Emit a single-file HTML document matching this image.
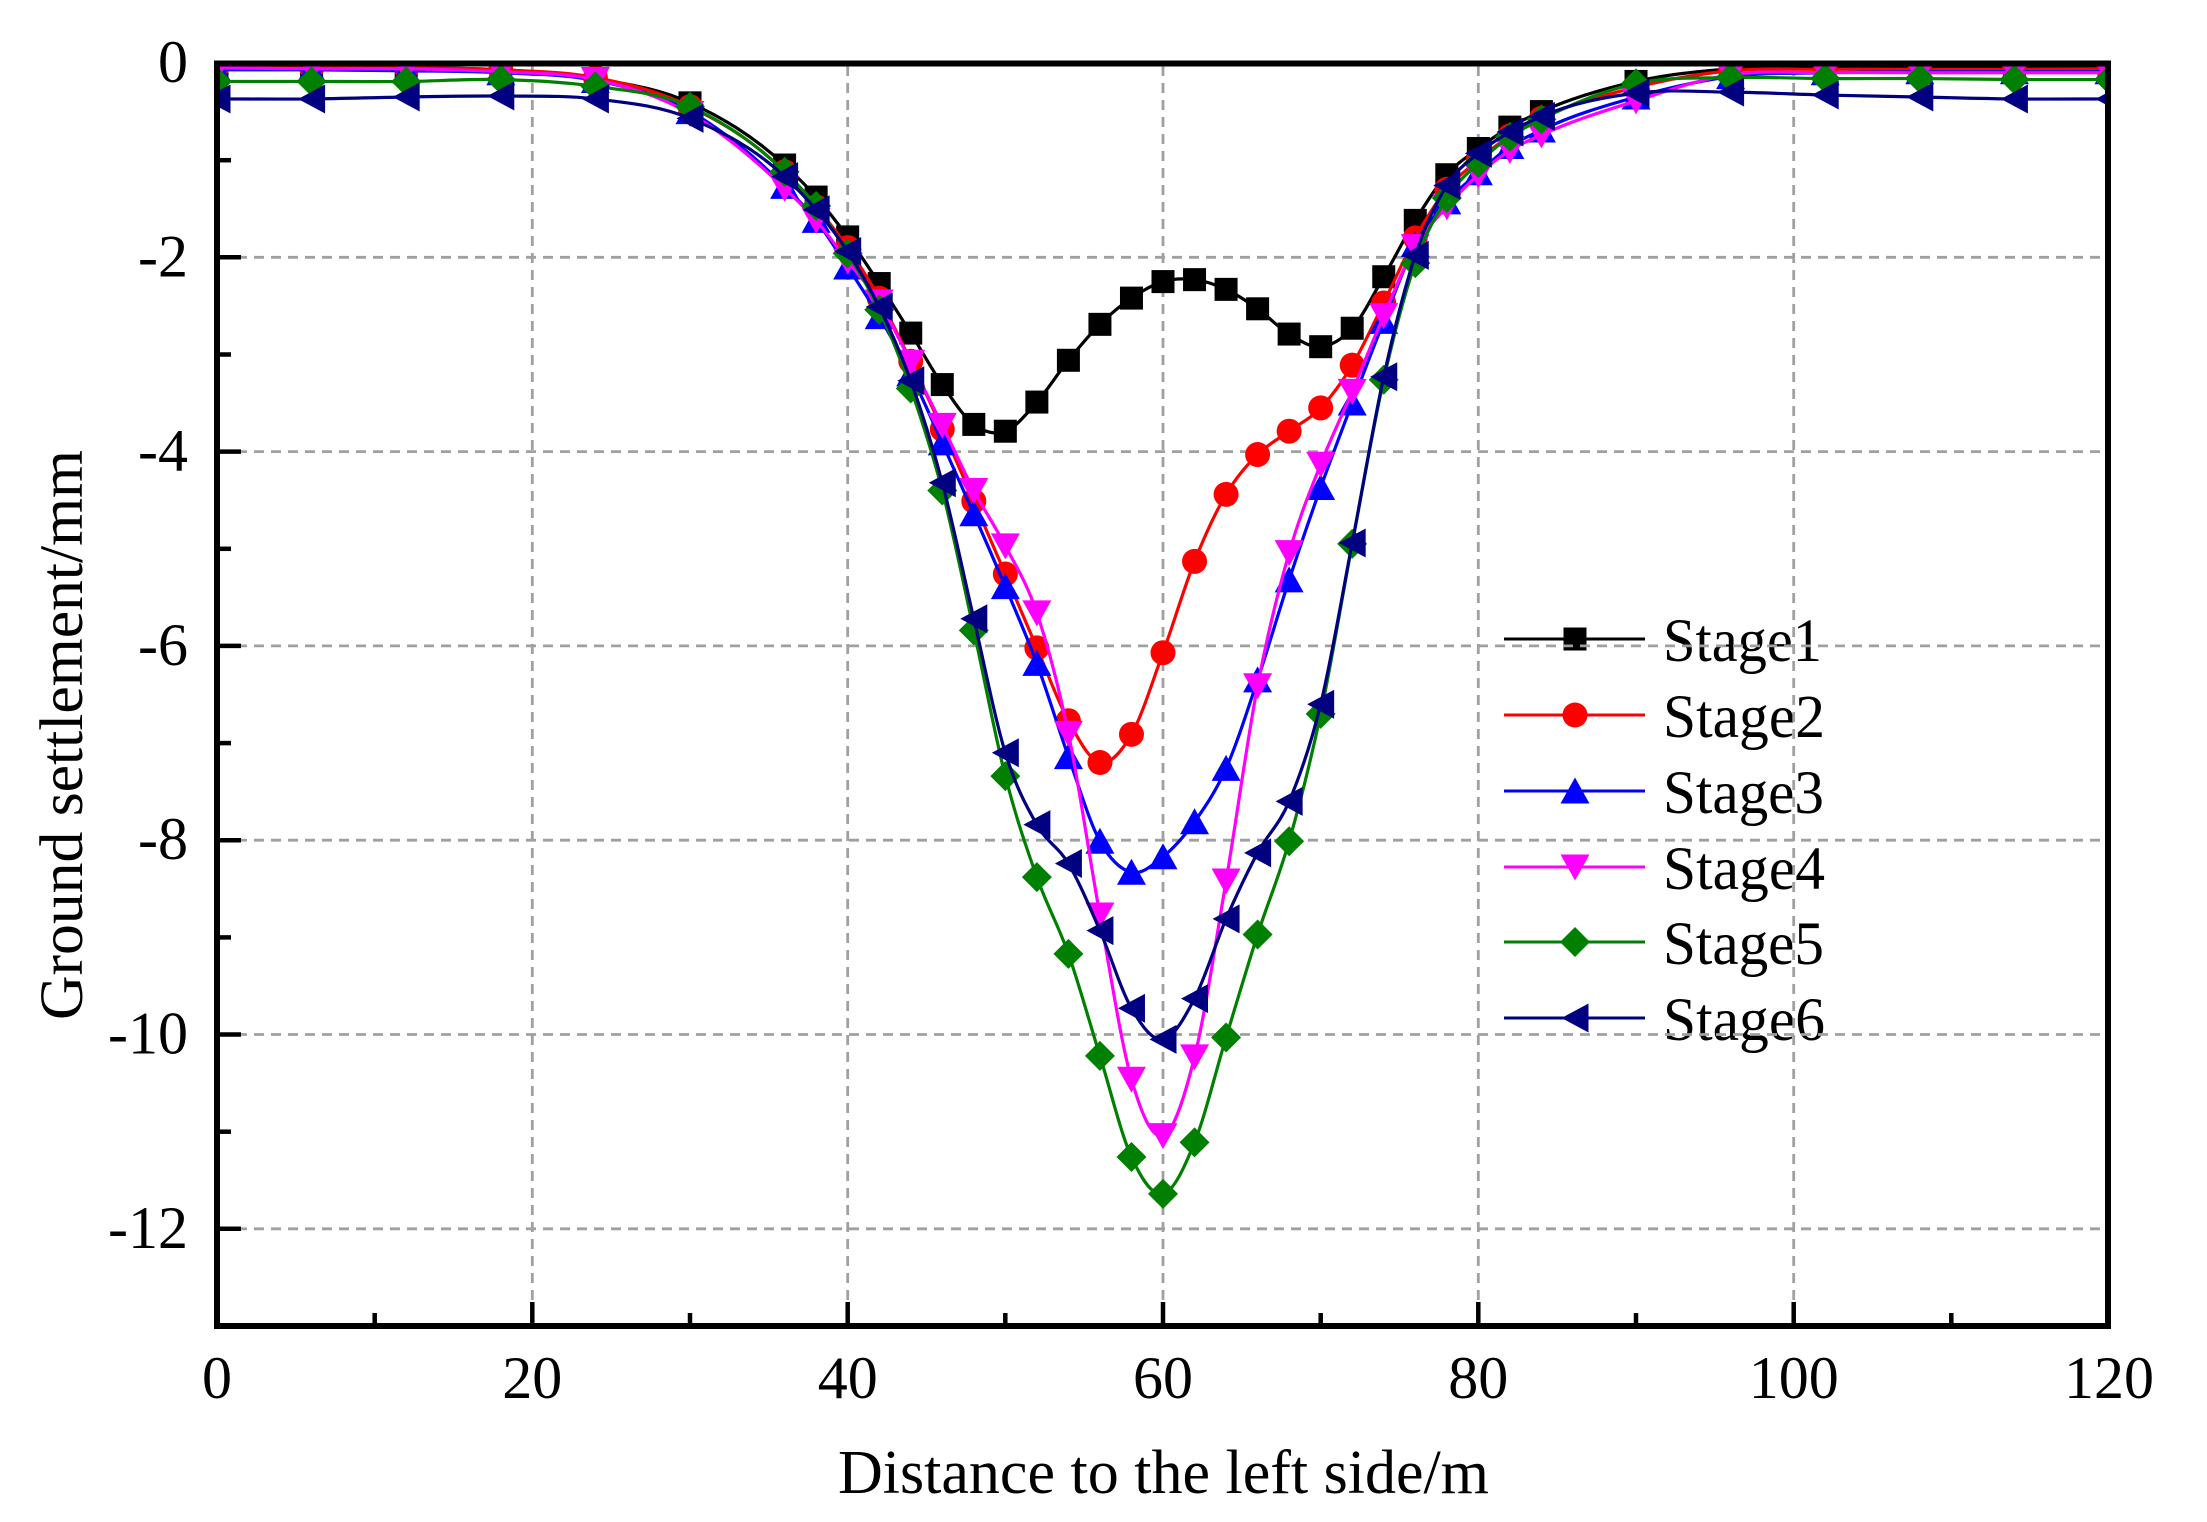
<!DOCTYPE html>
<html>
<head>
<meta charset="utf-8">
<style>
html,body{margin:0;padding:0;background:#fff;}
svg{display:block;}
text{font-family:"Liberation Serif","Times New Roman",serif;fill:#000;}
</style>
</head>
<body>
<svg id="chart" width="2207" height="1522" viewBox="0 0 2207 1522" xmlns="http://www.w3.org/2000/svg">
<defs>
  <rect id="p1" x="-11.5" y="-11.5" width="23" height="23"/>
  <circle id="p2" cx="0" cy="0" r="12.5"/>
  <polygon id="p3" points="0,-13.5 14.5,12.5 -14.5,12.5"/>
  <polygon id="p4" points="0,13.5 14.5,-12.5 -14.5,-12.5"/>
  <polygon id="p5" points="0,-15 15,0 0,15 -15,0"/>
  <polygon id="p6" points="-13.5,0 13.5,-14.5 13.5,14.5"/>
  <g id="m1" transform="scale(0.063425,-0.010293)"><use href="#p1"/></g>
  <g id="m2" transform="scale(0.063425,-0.010293)"><use href="#p2"/></g>
  <g id="m3" transform="scale(0.063425,-0.010293)"><use href="#p3"/></g>
  <g id="m4" transform="scale(0.063425,-0.010293)"><use href="#p4"/></g>
  <g id="m5" transform="scale(0.063425,-0.010293)"><use href="#p5"/></g>
  <g id="m6" transform="scale(0.063425,-0.010293)"><use href="#p6"/></g>
  <clipPath id="plotclip" clipPathUnits="userSpaceOnUse">
    <rect x="0" y="-13" width="120" height="13"/>
  </clipPath>
</defs>

<rect x="0" y="0" width="2207" height="1522" fill="#fff"/>

<g>
  <line x1="1504" y1="639" x2="1645" y2="639" stroke="#000" stroke-width="3"/>
  <use href="#p1" x="1575" y="639" fill="#000"/>
  <text x="1663" y="661" font-size="61" textLength="159" lengthAdjust="spacingAndGlyphs">Stage1</text>

  <line x1="1504" y1="715" x2="1645" y2="715" stroke="#ff0000" stroke-width="3"/>
  <use href="#p2" x="1575" y="715" fill="#ff0000"/>
  <text x="1663" y="737" font-size="61" textLength="162" lengthAdjust="spacingAndGlyphs">Stage2</text>

  <line x1="1504" y1="791" x2="1645" y2="791" stroke="#0000ff" stroke-width="3"/>
  <use href="#p3" x="1575" y="791" fill="#0000ff"/>
  <text x="1663" y="813" font-size="61" textLength="161" lengthAdjust="spacingAndGlyphs">Stage3</text>

  <line x1="1504" y1="867" x2="1645" y2="867" stroke="#ff00ff" stroke-width="3"/>
  <use href="#p4" x="1575" y="867" fill="#ff00ff"/>
  <text x="1663" y="889" font-size="61" textLength="162" lengthAdjust="spacingAndGlyphs">Stage4</text>

  <line x1="1504" y1="942" x2="1645" y2="942" stroke="#008000" stroke-width="3"/>
  <use href="#p5" x="1575" y="942" fill="#008000"/>
  <text x="1663" y="964" font-size="61" textLength="161" lengthAdjust="spacingAndGlyphs">Stage5</text>

  <line x1="1504" y1="1018" x2="1645" y2="1018" stroke="#000080" stroke-width="3"/>
  <use href="#p6" x="1575" y="1018" fill="#000080"/>
  <text x="1663" y="1040" font-size="61" textLength="162" lengthAdjust="spacingAndGlyphs">Stage6</text>
</g>

<g stroke="#a0a0a0" stroke-width="2.8" stroke-dasharray="10,7" fill="none">
  <line x1="532.3" y1="66" x2="532.3" y2="1323"/>
  <line x1="847.7" y1="66" x2="847.7" y2="1323"/>
  <line x1="1163" y1="66" x2="1163" y2="1323"/>
  <line x1="1478.3" y1="66" x2="1478.3" y2="1323"/>
  <line x1="1793.7" y1="66" x2="1793.7" y2="1323"/>
  <line x1="220" y1="257.3" x2="2106" y2="257.3"/>
  <line x1="220" y1="451.6" x2="2106" y2="451.6"/>
  <line x1="220" y1="645.9" x2="2106" y2="645.9"/>
  <line x1="220" y1="840.2" x2="2106" y2="840.2"/>
  <line x1="220" y1="1034.5" x2="2106" y2="1034.5"/>
  <line x1="220" y1="1228.8" x2="2106" y2="1228.8"/>
</g>

<g transform="translate(217,63) scale(15.7667,-97.1538)">
<g clip-path="url(#plotclip)">

<polyline class="s" fill="none" stroke="#000" stroke-width="3.2" vector-effect="non-scaling-stroke" stroke-linejoin="round"
 points="0,-0.04 6,-0.05 12,-0.05 18,-0.07 24,-0.16 30,-0.41 36,-1.05 38,-1.38 40,-1.79 42,-2.27 44,-2.78 46,-3.31 48,-3.72 50,-3.79 52,-3.49 54,-3.06 56,-2.69 58,-2.42 60,-2.25 62,-2.23 64,-2.33 66,-2.53 68,-2.79 70,-2.92 72,-2.73 74,-2.20 76,-1.62 78,-1.15 80,-0.88 82,-0.66 84,-0.50 90,-0.19 96,-0.06 102,-0.04 108,-0.04 114,-0.04 120,-0.04"/>
<g fill="#000">
<use href="#m1" x="0" y="-0.04"/><use href="#m1" x="6" y="-0.05"/><use href="#m1" x="12" y="-0.05"/><use href="#m1" x="18" y="-0.07"/><use href="#m1" x="24" y="-0.16"/><use href="#m1" x="30" y="-0.41"/><use href="#m1" x="36" y="-1.05"/><use href="#m1" x="38" y="-1.38"/><use href="#m1" x="40" y="-1.79"/><use href="#m1" x="42" y="-2.27"/><use href="#m1" x="44" y="-2.78"/><use href="#m1" x="46" y="-3.31"/><use href="#m1" x="48" y="-3.72"/><use href="#m1" x="50" y="-3.79"/><use href="#m1" x="52" y="-3.49"/><use href="#m1" x="54" y="-3.06"/><use href="#m1" x="56" y="-2.69"/><use href="#m1" x="58" y="-2.42"/><use href="#m1" x="60" y="-2.25"/><use href="#m1" x="62" y="-2.23"/><use href="#m1" x="64" y="-2.33"/><use href="#m1" x="66" y="-2.53"/><use href="#m1" x="68" y="-2.79"/><use href="#m1" x="70" y="-2.92"/><use href="#m1" x="72" y="-2.73"/><use href="#m1" x="74" y="-2.20"/><use href="#m1" x="76" y="-1.62"/><use href="#m1" x="78" y="-1.15"/><use href="#m1" x="80" y="-0.88"/><use href="#m1" x="82" y="-0.66"/><use href="#m1" x="84" y="-0.50"/><use href="#m1" x="90" y="-0.19"/><use href="#m1" x="96" y="-0.06"/><use href="#m1" x="102" y="-0.04"/><use href="#m1" x="108" y="-0.04"/><use href="#m1" x="114" y="-0.04"/><use href="#m1" x="120" y="-0.04"/>
</g>

<polyline class="s" fill="none" stroke="#ff0000" stroke-width="3.2" vector-effect="non-scaling-stroke" stroke-linejoin="round"
 points="0,-0.04 6,-0.05 12,-0.05 18,-0.07 24,-0.15 30,-0.45 36,-1.12 38,-1.48 40,-1.90 42,-2.42 44,-3.07 46,-3.77 48,-4.51 50,-5.26 52,-6.02 54,-6.77 56,-7.20 58,-6.91 60,-6.07 62,-5.13 64,-4.44 66,-4.03 68,-3.79 70,-3.55 72,-3.11 74,-2.47 76,-1.80 78,-1.30 80,-1.00 82,-0.75 84,-0.57 90,-0.25 96,-0.08 102,-0.065 108,-0.065 114,-0.065 120,-0.06"/>
<g fill="#ff0000">
<use href="#m2" x="0" y="-0.04"/><use href="#m2" x="6" y="-0.05"/><use href="#m2" x="12" y="-0.05"/><use href="#m2" x="18" y="-0.07"/><use href="#m2" x="24" y="-0.15"/><use href="#m2" x="30" y="-0.45"/><use href="#m2" x="36" y="-1.12"/><use href="#m2" x="38" y="-1.48"/><use href="#m2" x="40" y="-1.90"/><use href="#m2" x="42" y="-2.42"/><use href="#m2" x="44" y="-3.07"/><use href="#m2" x="46" y="-3.77"/><use href="#m2" x="48" y="-4.51"/><use href="#m2" x="50" y="-5.26"/><use href="#m2" x="52" y="-6.02"/><use href="#m2" x="54" y="-6.77"/><use href="#m2" x="56" y="-7.20"/><use href="#m2" x="58" y="-6.91"/><use href="#m2" x="60" y="-6.07"/><use href="#m2" x="62" y="-5.13"/><use href="#m2" x="64" y="-4.44"/><use href="#m2" x="66" y="-4.03"/><use href="#m2" x="68" y="-3.79"/><use href="#m2" x="70" y="-3.55"/><use href="#m2" x="72" y="-3.11"/><use href="#m2" x="74" y="-2.47"/><use href="#m2" x="76" y="-1.80"/><use href="#m2" x="78" y="-1.30"/><use href="#m2" x="80" y="-1.00"/><use href="#m2" x="82" y="-0.75"/><use href="#m2" x="84" y="-0.57"/><use href="#m2" x="90" y="-0.25"/><use href="#m2" x="96" y="-0.08"/><use href="#m2" x="102" y="-0.065"/><use href="#m2" x="108" y="-0.065"/><use href="#m2" x="114" y="-0.065"/><use href="#m2" x="120" y="-0.06"/>
</g>

<polyline class="s" fill="none" stroke="#0000ff" stroke-width="3.2" vector-effect="non-scaling-stroke" stroke-linejoin="round"
 points="0,-0.07 6,-0.07 12,-0.08 18,-0.10 24,-0.18 30,-0.50 36,-1.27 38,-1.62 40,-2.10 42,-2.61 44,-3.20 46,-3.91 48,-4.64 50,-5.39 52,-6.18 54,-7.14 56,-8.01 58,-8.33 60,-8.17 62,-7.81 64,-7.26 66,-6.35 68,-5.32 70,-4.37 72,-3.50 74,-2.66 76,-1.87 78,-1.43 80,-1.13 82,-0.86 84,-0.69 90,-0.35 96,-0.14 102,-0.10 108,-0.09 114,-0.09 120,-0.09"/>
<g fill="#0000ff">
<use href="#m3" x="0" y="-0.07"/><use href="#m3" x="6" y="-0.07"/><use href="#m3" x="12" y="-0.08"/><use href="#m3" x="18" y="-0.10"/><use href="#m3" x="24" y="-0.18"/><use href="#m3" x="30" y="-0.50"/><use href="#m3" x="36" y="-1.27"/><use href="#m3" x="38" y="-1.62"/><use href="#m3" x="40" y="-2.10"/><use href="#m3" x="42" y="-2.61"/><use href="#m3" x="44" y="-3.20"/><use href="#m3" x="46" y="-3.91"/><use href="#m3" x="48" y="-4.64"/><use href="#m3" x="50" y="-5.39"/><use href="#m3" x="52" y="-6.18"/><use href="#m3" x="54" y="-7.14"/><use href="#m3" x="56" y="-8.01"/><use href="#m3" x="58" y="-8.33"/><use href="#m3" x="60" y="-8.17"/><use href="#m3" x="62" y="-7.81"/><use href="#m3" x="64" y="-7.26"/><use href="#m3" x="66" y="-6.35"/><use href="#m3" x="68" y="-5.32"/><use href="#m3" x="70" y="-4.37"/><use href="#m3" x="72" y="-3.50"/><use href="#m3" x="74" y="-2.66"/><use href="#m3" x="76" y="-1.87"/><use href="#m3" x="78" y="-1.43"/><use href="#m3" x="80" y="-1.13"/><use href="#m3" x="82" y="-0.86"/><use href="#m3" x="84" y="-0.69"/><use href="#m3" x="90" y="-0.35"/><use href="#m3" x="96" y="-0.14"/><use href="#m3" x="102" y="-0.10"/><use href="#m3" x="108" y="-0.09"/><use href="#m3" x="114" y="-0.09"/><use href="#m3" x="120" y="-0.09"/>
</g>

<polyline class="s" fill="none" stroke="#ff00ff" stroke-width="3.2" vector-effect="non-scaling-stroke" stroke-linejoin="round"
 points="0,-0.05 6,-0.06 12,-0.06 18,-0.09 24,-0.17 30,-0.52 36,-1.29 38,-1.62 40,-2.04 42,-2.46 44,-3.08 46,-3.73 48,-4.40 50,-4.97 52,-5.66 54,-6.90 56,-8.77 58,-10.46 60,-11.04 62,-10.23 64,-8.42 66,-6.41 68,-5.04 70,-4.13 72,-3.38 74,-2.60 76,-1.89 78,-1.48 80,-1.15 82,-0.90 84,-0.74 90,-0.39 96,-0.12 102,-0.10 108,-0.10 114,-0.10 120,-0.10"/>
<g fill="#ff00ff">
<use href="#m4" x="0" y="-0.05"/><use href="#m4" x="6" y="-0.06"/><use href="#m4" x="12" y="-0.06"/><use href="#m4" x="18" y="-0.09"/><use href="#m4" x="24" y="-0.17"/><use href="#m4" x="30" y="-0.52"/><use href="#m4" x="36" y="-1.29"/><use href="#m4" x="38" y="-1.62"/><use href="#m4" x="40" y="-2.04"/><use href="#m4" x="42" y="-2.46"/><use href="#m4" x="44" y="-3.08"/><use href="#m4" x="46" y="-3.73"/><use href="#m4" x="48" y="-4.40"/><use href="#m4" x="50" y="-4.97"/><use href="#m4" x="52" y="-5.66"/><use href="#m4" x="54" y="-6.90"/><use href="#m4" x="56" y="-8.77"/><use href="#m4" x="58" y="-10.46"/><use href="#m4" x="60" y="-11.04"/><use href="#m4" x="62" y="-10.23"/><use href="#m4" x="64" y="-8.42"/><use href="#m4" x="66" y="-6.41"/><use href="#m4" x="68" y="-5.04"/><use href="#m4" x="70" y="-4.13"/><use href="#m4" x="72" y="-3.38"/><use href="#m4" x="74" y="-2.60"/><use href="#m4" x="76" y="-1.89"/><use href="#m4" x="78" y="-1.48"/><use href="#m4" x="80" y="-1.15"/><use href="#m4" x="82" y="-0.90"/><use href="#m4" x="84" y="-0.74"/><use href="#m4" x="90" y="-0.39"/><use href="#m4" x="96" y="-0.12"/><use href="#m4" x="102" y="-0.10"/><use href="#m4" x="108" y="-0.10"/><use href="#m4" x="114" y="-0.10"/><use href="#m4" x="120" y="-0.10"/>
</g>

<polyline class="s" fill="none" stroke="#008000" stroke-width="3.2" vector-effect="non-scaling-stroke" stroke-linejoin="round"
 points="0,-0.19 6,-0.19 12,-0.19 18,-0.17 24,-0.24 30,-0.45 36,-1.12 38,-1.47 40,-1.96 42,-2.54 44,-3.35 46,-4.40 48,-5.84 50,-7.34 52,-8.38 54,-9.17 56,-10.22 58,-11.26 60,-11.64 62,-11.11 64,-10.03 66,-8.97 68,-8.01 70,-6.70 72,-4.95 74,-3.26 76,-2.06 78,-1.39 80,-1.03 82,-0.76 84,-0.58 90,-0.21 96,-0.15 102,-0.16 108,-0.16 114,-0.17 120,-0.17"/>
<g fill="#008000">
<use href="#m5" x="0" y="-0.19"/><use href="#m5" x="6" y="-0.19"/><use href="#m5" x="12" y="-0.19"/><use href="#m5" x="18" y="-0.17"/><use href="#m5" x="24" y="-0.24"/><use href="#m5" x="30" y="-0.45"/><use href="#m5" x="36" y="-1.12"/><use href="#m5" x="38" y="-1.47"/><use href="#m5" x="40" y="-1.96"/><use href="#m5" x="42" y="-2.54"/><use href="#m5" x="44" y="-3.35"/><use href="#m5" x="46" y="-4.40"/><use href="#m5" x="48" y="-5.84"/><use href="#m5" x="50" y="-7.34"/><use href="#m5" x="52" y="-8.38"/><use href="#m5" x="54" y="-9.17"/><use href="#m5" x="56" y="-10.22"/><use href="#m5" x="58" y="-11.26"/><use href="#m5" x="60" y="-11.64"/><use href="#m5" x="62" y="-11.11"/><use href="#m5" x="64" y="-10.03"/><use href="#m5" x="66" y="-8.97"/><use href="#m5" x="68" y="-8.01"/><use href="#m5" x="70" y="-6.70"/><use href="#m5" x="72" y="-4.95"/><use href="#m5" x="74" y="-3.26"/><use href="#m5" x="76" y="-2.06"/><use href="#m5" x="78" y="-1.39"/><use href="#m5" x="80" y="-1.03"/><use href="#m5" x="82" y="-0.76"/><use href="#m5" x="84" y="-0.58"/><use href="#m5" x="90" y="-0.21"/><use href="#m5" x="96" y="-0.15"/><use href="#m5" x="102" y="-0.16"/><use href="#m5" x="108" y="-0.16"/><use href="#m5" x="114" y="-0.17"/><use href="#m5" x="120" y="-0.17"/>
</g>

<polyline class="s" fill="none" stroke="#000080" stroke-width="3.2" vector-effect="non-scaling-stroke" stroke-linejoin="round"
 points="0,-0.37 6,-0.37 12,-0.35 18,-0.34 24,-0.37 30,-0.57 36,-1.17 38,-1.51 40,-1.94 42,-2.51 44,-3.27 46,-4.32 48,-5.72 50,-7.10 52,-7.84 54,-8.24 56,-8.93 58,-9.73 60,-10.05 62,-9.63 64,-8.81 66,-8.13 68,-7.60 70,-6.60 72,-4.94 74,-3.23 76,-1.98 78,-1.26 80,-0.93 82,-0.71 84,-0.55 90,-0.31 96,-0.30 102,-0.33 108,-0.35 114,-0.37 120,-0.37"/>
<g fill="#000080">
<use href="#m6" x="0" y="-0.37"/><use href="#m6" x="6" y="-0.37"/><use href="#m6" x="12" y="-0.35"/><use href="#m6" x="18" y="-0.34"/><use href="#m6" x="24" y="-0.37"/><use href="#m6" x="30" y="-0.57"/><use href="#m6" x="36" y="-1.17"/><use href="#m6" x="38" y="-1.51"/><use href="#m6" x="40" y="-1.94"/><use href="#m6" x="42" y="-2.51"/><use href="#m6" x="44" y="-3.27"/><use href="#m6" x="46" y="-4.32"/><use href="#m6" x="48" y="-5.72"/><use href="#m6" x="50" y="-7.10"/><use href="#m6" x="52" y="-7.84"/><use href="#m6" x="54" y="-8.24"/><use href="#m6" x="56" y="-8.93"/><use href="#m6" x="58" y="-9.73"/><use href="#m6" x="60" y="-10.05"/><use href="#m6" x="62" y="-9.63"/><use href="#m6" x="64" y="-8.81"/><use href="#m6" x="66" y="-8.13"/><use href="#m6" x="68" y="-7.60"/><use href="#m6" x="70" y="-6.60"/><use href="#m6" x="72" y="-4.94"/><use href="#m6" x="74" y="-3.23"/><use href="#m6" x="76" y="-1.98"/><use href="#m6" x="78" y="-1.26"/><use href="#m6" x="80" y="-0.93"/><use href="#m6" x="82" y="-0.71"/><use href="#m6" x="84" y="-0.55"/><use href="#m6" x="90" y="-0.31"/><use href="#m6" x="96" y="-0.30"/><use href="#m6" x="102" y="-0.33"/><use href="#m6" x="108" y="-0.35"/><use href="#m6" x="114" y="-0.37"/><use href="#m6" x="120" y="-0.37"/>
</g>

</g>
</g>

<g stroke="#000" stroke-width="4.5">
  <line x1="217" y1="257.3" x2="241" y2="257.3"/>
  <line x1="217" y1="451.6" x2="241" y2="451.6"/>
  <line x1="217" y1="645.9" x2="241" y2="645.9"/>
  <line x1="217" y1="840.2" x2="241" y2="840.2"/>
  <line x1="217" y1="1034.5" x2="241" y2="1034.5"/>
  <line x1="217" y1="1228.8" x2="241" y2="1228.8"/>
  <line x1="217" y1="160.2" x2="231" y2="160.2"/>
  <line x1="217" y1="354.5" x2="231" y2="354.5"/>
  <line x1="217" y1="548.8" x2="231" y2="548.8"/>
  <line x1="217" y1="743.1" x2="231" y2="743.1"/>
  <line x1="217" y1="937.4" x2="231" y2="937.4"/>
  <line x1="217" y1="1131.7" x2="231" y2="1131.7"/>
  <line x1="532.3" y1="1326" x2="532.3" y2="1302"/>
  <line x1="847.7" y1="1326" x2="847.7" y2="1302"/>
  <line x1="1163" y1="1326" x2="1163" y2="1302"/>
  <line x1="1478.3" y1="1326" x2="1478.3" y2="1302"/>
  <line x1="1793.7" y1="1326" x2="1793.7" y2="1302"/>
  <line x1="374.7" y1="1326" x2="374.7" y2="1313"/>
  <line x1="690" y1="1326" x2="690" y2="1313"/>
  <line x1="1005.3" y1="1326" x2="1005.3" y2="1313"/>
  <line x1="1320.7" y1="1326" x2="1320.7" y2="1313"/>
  <line x1="1636" y1="1326" x2="1636" y2="1313"/>
  <line x1="1951.3" y1="1326" x2="1951.3" y2="1313"/>
</g>

<rect x="217" y="63.5" width="1891" height="1262.5" fill="none" stroke="#000" stroke-width="6"/>

<g font-size="60" text-anchor="end">
  <text x="188" y="82">0</text>
  <text x="188" y="276.3">-2</text>
  <text x="188" y="470.6">-4</text>
  <text x="188" y="664.9">-6</text>
  <text x="188" y="859.2">-8</text>
  <text x="188" y="1053.5">-10</text>
  <text x="188" y="1247.8">-12</text>
</g>

<g font-size="60" text-anchor="middle">
  <text x="217" y="1398">0</text>
  <text x="532.3" y="1398">20</text>
  <text x="847.7" y="1398">40</text>
  <text x="1163" y="1398">60</text>
  <text x="1478.3" y="1398">80</text>
  <text x="1793.7" y="1398">100</text>
  <text x="2109" y="1398">120</text>
</g>

<text x="1163.5" y="1493" font-size="62" text-anchor="middle" textLength="651" lengthAdjust="spacingAndGlyphs">Distance to the left side/m</text>
<text transform="translate(82,735) rotate(-90)" font-size="61" text-anchor="middle" textLength="570" lengthAdjust="spacingAndGlyphs">Ground settlement/mm</text>
</svg>

<script>
(function(){
  try{
    var NS="http://www.w3.org/2000/svg";
    var pls=document.querySelectorAll("polyline.s");
    for(var k=0;k<pls.length;k++){
      var pl=pls[k];
      var raw=pl.getAttribute("points").trim().split(/\s+/);
      var P=raw.map(function(s){var a=s.split(",");return [parseFloat(a[0]),parseFloat(a[1])];});
      var n=P.length, m=[];
      for(var i=0;i<n;i++){
        if(i===0) m.push((P[1][1]-P[0][1])/(P[1][0]-P[0][0]));
        else if(i===n-1) m.push((P[n-1][1]-P[n-2][1])/(P[n-1][0]-P[n-2][0]));
        else {
          var d0=(P[i][1]-P[i-1][1])/(P[i][0]-P[i-1][0]);
          var d1=(P[i+1][1]-P[i][1])/(P[i+1][0]-P[i][0]);
          var h0=P[i][0]-P[i-1][0], h1=P[i+1][0]-P[i][0];
          m.push((d0*h1+d1*h0)/(h0+h1));
        }
      }
      var d="M"+P[0][0]+","+P[0][1];
      for(var j=0;j<n-1;j++){
        var h=P[j+1][0]-P[j][0];
        var c1x=P[j][0]+h/3, c1y=P[j][1]+m[j]*h/3;
        var c2x=P[j+1][0]-h/3, c2y=P[j+1][1]-m[j+1]*h/3;
        d+=" C"+c1x+","+c1y+" "+c2x+","+c2y+" "+P[j+1][0]+","+P[j+1][1];
      }
      var path=document.createElementNS(NS,"path");
      path.setAttribute("d",d);
      path.setAttribute("fill","none");
      path.setAttribute("stroke",pl.getAttribute("stroke"));
      path.setAttribute("stroke-width",pl.getAttribute("stroke-width"));
      path.setAttribute("vector-effect","non-scaling-stroke");
      path.setAttribute("stroke-linejoin","round");
      pl.parentNode.insertBefore(path,pl);
      pl.parentNode.removeChild(pl);
    }
  }catch(e){}
})();
</script>
</body>
</html>
